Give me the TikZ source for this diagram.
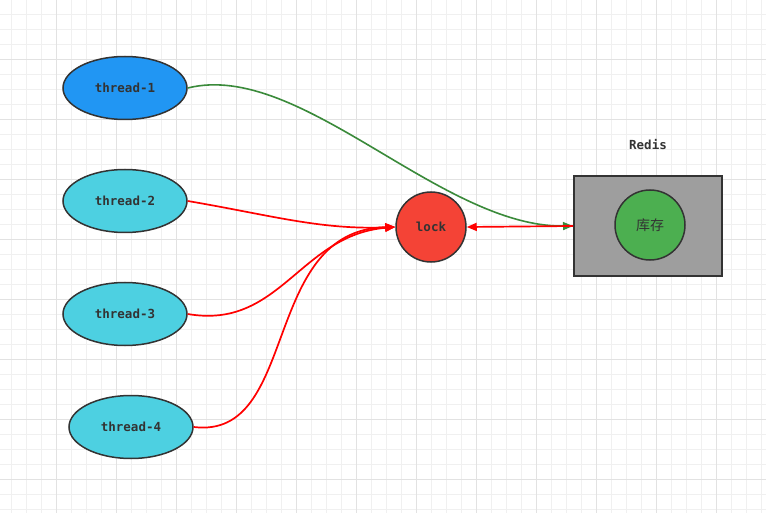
\documentclass[tikz,border=0pt]{standalone}
\usepackage{fontspec}
\setmonofont{DejaVu Sans Mono}
\newfontfamily\cjk{Noto Sans CJK SC}
\usetikzlibrary{shapes.geometric,arrows.meta}
\definecolor{edgec}{HTML}{333333}
\definecolor{blueA}{HTML}{2196F3}
\definecolor{cyanA}{HTML}{4DD0E1}
\definecolor{redA}{HTML}{F44336}
\definecolor{greenA}{HTML}{4CAF50}
\definecolor{grayA}{HTML}{9E9E9E}
\definecolor{lineG}{HTML}{3A8A3A}
\definecolor{gridminor}{HTML}{F0F0F0}
\definecolor{gridmajor}{HTML}{E2E2E2}
\tikzset{
  lbl/.style={font=\ttfamily\bfseries\fontsize{12.5}{14}\selectfont, text=edgec},
  thr/.style={ellipse, draw=edgec, line width=1.5pt, minimum width=124pt, minimum height=63pt, inner sep=0pt, lbl},
  circ/.style={circle, draw=edgec, line width=1.5pt, minimum size=70pt, inner sep=0pt, text=edgec},
  redline/.style={draw=red, line width=1.7pt, -{Triangle[length=10pt,width=8pt]}},
  greenline/.style={draw=lineG, line width=1.6pt, -{Triangle[length=10pt,width=8pt]}}
}
\begin{document}
\begin{tikzpicture}[x=1pt,y=-1pt]
\useasboundingbox (0,0) rectangle (766,513);
\fill[white] (0,0) rectangle (766,513);
% grid
\foreach \i in {0,...,51} {
  \pgfmathsetmacro\xx{11.7+15*\i}
  \draw[gridminor, line width=0.8pt] (\xx,0) -- (\xx,513);
}
\foreach \i in {0,...,34} {
  \pgfmathsetmacro\yy{14+15*\i}
  \draw[gridminor, line width=0.8pt] (0,\yy) -- (766,\yy);
}
\foreach \i in {0,...,12} {
  \pgfmathsetmacro\xx{56.7+60*\i}
  \draw[gridmajor, line width=0.8pt] (\xx,0) -- (\xx,513);
}
\foreach \i in {0,...,8} {
  \pgfmathsetmacro\yy{59+60*\i}
  \draw[gridmajor, line width=0.8pt] (0,\yy) -- (766,\yy);
}
% nodes
\node[thr, fill=blueA] (t1) at (125,88) {thread-1};
\node[thr, fill=cyanA] (t2) at (125,201) {thread-2};
\node[thr, fill=cyanA] (t3) at (125,314) {thread-3};
\node[thr, fill=cyanA] (t4) at (131,427) {thread-4};
\node[circ, fill=redA, lbl] (lock) at (431,227) {lock};
\node[draw=edgec, fill=grayA, line width=2pt, minimum width=148pt, minimum height=100pt, inner sep=0pt] (redis) at (648,226) {};
\node[circ, fill=greenA, font=\cjk\fontsize{14}{16}\selectfont] (kc) at (650,225) {库存};
\node[lbl] (rl) at (648,145) {Redis};
% connectors
\draw[greenline] (t1.east) .. controls (300,60) and (440,227) .. (redis.west);
\draw[redline] (redis.west) -- (lock.east);
\draw[redline] (t2.east) .. controls (270,215) and (320,230) .. (lock.west);
\draw[redline] (t3.east) .. controls (280,330) and (300,235) .. (lock.west);
\draw[redline] (t4.east) .. controls (300,440) and (260,230) .. (lock.west);
\end{tikzpicture}
\end{document}
